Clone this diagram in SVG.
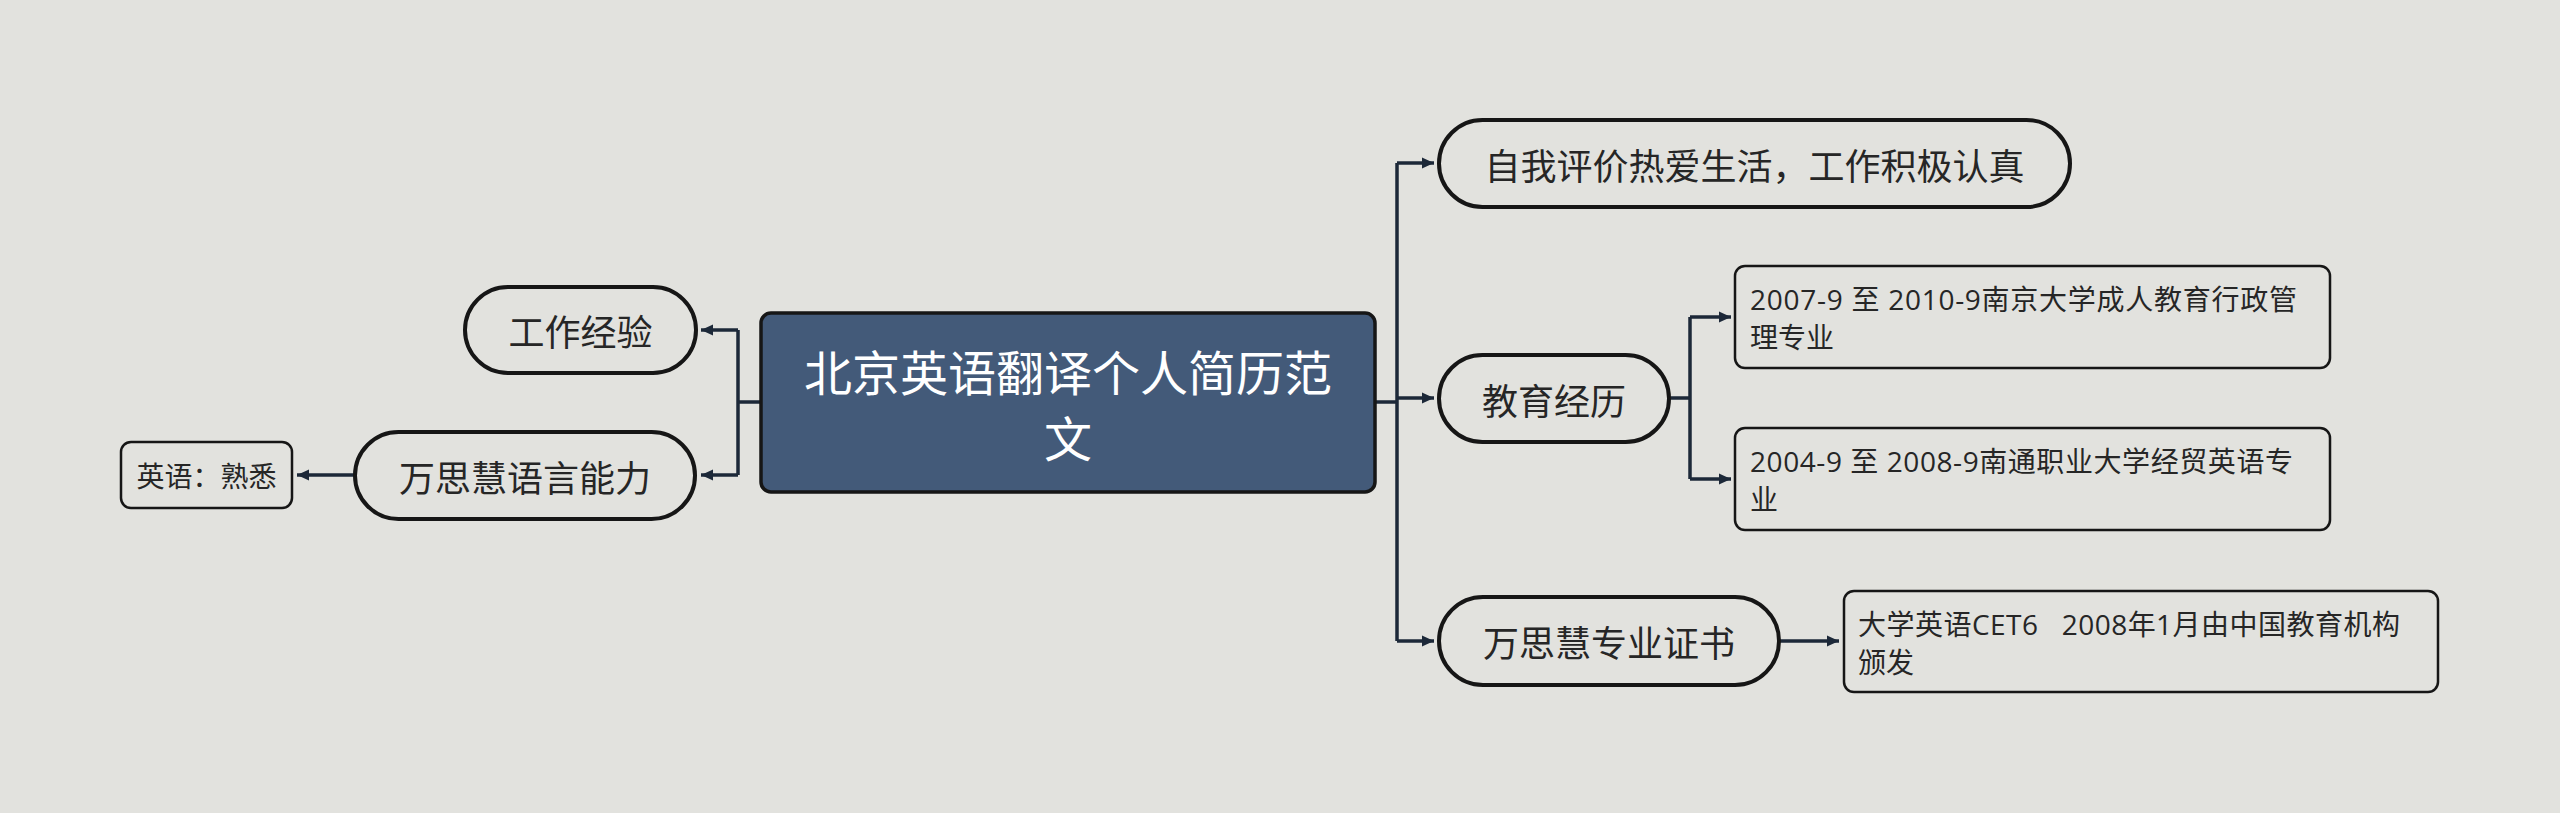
<svg xmlns="http://www.w3.org/2000/svg" width="2560" height="813" viewBox="0 0 2560 813">
<defs>
<marker id="arr" markerUnits="userSpaceOnUse" markerWidth="14" markerHeight="12" refX="12" refY="6" orient="auto">
<path d="M0,0.5 L12,6 L0,11.5 z" fill="#1c2838"/>
</marker>
<style>
.bg{fill:#e2e2de}
.t{font-family:"Noto Sans CJK SC","Noto Sans",sans-serif;fill:#262626}
.lt{font-family:"Open Sans","Noto Sans CJK SC",sans-serif;fill:#262626;white-space:pre}
.pill{fill:#e2e2de;stroke:#161616;stroke-width:4}
.leaf{fill:#e2e2de;stroke:#161616;stroke-width:2.5}
.c{fill:none;stroke:#1c2838;stroke-width:3.5}
.mid{text-anchor:middle;dominant-baseline:central}
</style>
</defs>
<rect class="bg" x="0" y="0" width="2560" height="813"/>
<g id="connectors">
<path class="c" d="M760,402 H738 M738,330 V475"/>
<path class="c" d="M738,330 H701" marker-end="url(#arr)"/>
<path class="c" d="M738,475 H701" marker-end="url(#arr)"/>
<path class="c" d="M355,475 H297" marker-end="url(#arr)"/>
<path class="c" d="M1376,402 H1397 M1397,163 V641"/>
<path class="c" d="M1397,163 H1434" marker-end="url(#arr)"/>
<path class="c" d="M1397,398 H1434" marker-end="url(#arr)"/>
<path class="c" d="M1397,641 H1434" marker-end="url(#arr)"/>
<path class="c" d="M1669,398 H1690 M1690,317 V479"/>
<path class="c" d="M1690,317 H1731" marker-end="url(#arr)"/>
<path class="c" d="M1690,479 H1731" marker-end="url(#arr)"/>
<path class="c" d="M1779,641 H1839" marker-end="url(#arr)"/>
</g>
<g id="root">
<rect x="761" y="313" width="614" height="179" rx="10" fill="#435a79" stroke="#161616" stroke-width="3.5"/>
<text class="t mid" x="1068" y="370" font-size="48" style="fill:#ffffff">北京英语翻译个人简历范</text>
<text class="t mid" x="1068" y="436" font-size="48" style="fill:#ffffff">文</text>
</g>
<g id="n-gongzuo">
<rect class="pill" x="465" y="287" width="231" height="86" rx="43"/>
<text class="t mid" x="580.5" y="330" font-size="36">工作经验</text>
</g>
<g id="n-yuyan">
<rect class="pill" x="355" y="432" width="340" height="87" rx="43.5"/>
<text class="t mid" x="525" y="475.5" font-size="36">万思慧语言能力</text>
</g>
<g id="n-yingyu">
<rect class="leaf" x="121" y="442" width="171" height="66" rx="10"/>
<text class="t mid" x="206.5" y="475" font-size="28">英语：熟悉</text>
</g>
<g id="n-ziwo">
<rect class="pill" x="1439" y="120" width="631" height="87" rx="43.5"/>
<text class="t mid" x="1754.5" y="163.5" font-size="36">自我评价热爱生活，工作积极认真</text>
</g>
<g id="n-jiaoyu">
<rect class="pill" x="1439" y="355" width="230" height="87" rx="43.5"/>
<text class="t mid" x="1554" y="398.5" font-size="36">教育经历</text>
</g>
<g id="n-edu1">
<rect class="leaf" x="1735" y="266" width="595" height="102" rx="10"/>
<text class="lt" x="1750" y="310" font-size="28" textLength="547" lengthAdjust="spacing">2007-9 至 2010-9南京大学成人教育行政管</text>
<text class="lt" x="1750" y="348" font-size="28">理专业</text>
</g>
<g id="n-edu2">
<rect class="leaf" x="1735" y="428" width="595" height="102" rx="10"/>
<text class="lt" x="1750" y="472" font-size="28" textLength="543" lengthAdjust="spacing">2004-9 至 2008-9南通职业大学经贸英语专</text>
<text class="lt" x="1750" y="510" font-size="28">业</text>
</g>
<g id="n-zhengshu">
<rect class="pill" x="1439" y="597" width="340" height="88" rx="44"/>
<text class="t mid" x="1609" y="641" font-size="36">万思慧专业证书</text>
</g>
<g id="n-cet">
<rect class="leaf" x="1844" y="591" width="594" height="101" rx="10"/>
<text class="lt" x="1858" y="635" font-size="28" textLength="542" lengthAdjust="spacing">大学英语CET6   2008年1月由中国教育机构</text>
<text class="lt" x="1858" y="673" font-size="28">颁发</text>
</g>
</svg>
